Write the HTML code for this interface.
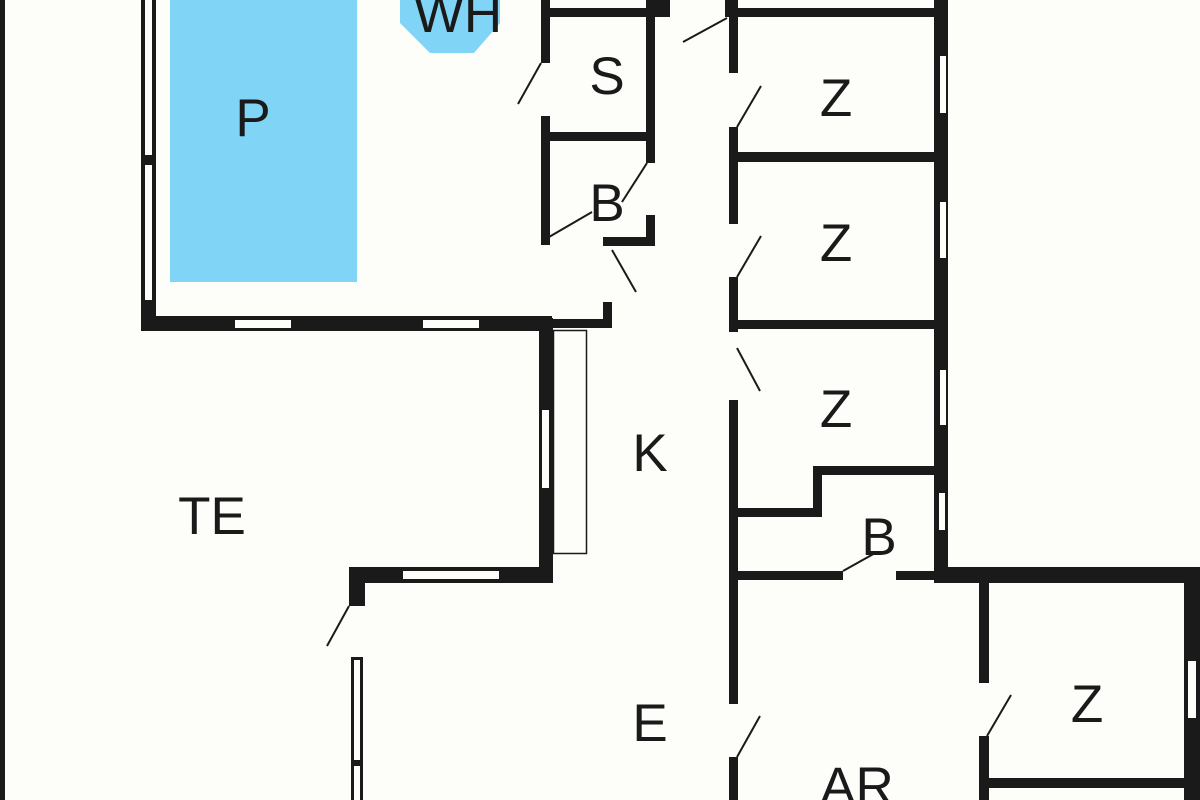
<!DOCTYPE html>
<html><head><meta charset="utf-8"><style>
html,body{margin:0;padding:0;background:#fdfdf9;}
svg{display:block}
text{font-family:"Liberation Sans",sans-serif;font-size:53px;fill:#1a1a1a;text-anchor:middle}
</style></head><body>
<svg width="1200" height="800" viewBox="0 0 1200 800" xmlns="http://www.w3.org/2000/svg">
<rect width="1200" height="800" fill="#fdfdf9"/>
<g fill="#1a1a1a">
<!-- far left line -->
<rect x="0" y="0" width="5" height="800"/>
<!-- pool room left wall -->
<rect x="141" y="0" width="15" height="331"/>
<!-- pool room bottom wall -->
<rect x="141" y="316" width="411" height="15"/>
<rect x="549" y="319" width="62" height="9"/>
<rect x="603" y="302" width="9" height="26"/>
<rect x="603" y="237" width="51" height="9"/>
<!-- S/B column -->
<rect x="541" y="0" width="9" height="63"/>
<rect x="541" y="116" width="9" height="129"/>
<rect x="646" y="0" width="9" height="163"/>
<rect x="646" y="215" width="9" height="31"/>
<rect x="541" y="8" width="129" height="9"/>
<rect x="646" y="0" width="24" height="17"/>
<rect x="541" y="132" width="114" height="9"/>
<!-- corridor right wall -->
<rect x="725" y="0" width="13" height="17"/>
<rect x="729" y="0" width="9" height="73"/>
<rect x="729" y="127" width="9" height="97"/>
<rect x="729" y="277" width="9" height="55"/>
<rect x="729" y="400" width="9" height="304"/>
<rect x="729" y="757" width="9" height="43"/>
<rect x="729" y="8" width="219" height="9"/>
<rect x="729" y="152" width="215" height="10"/>
<rect x="729" y="320" width="215" height="9"/>
<!-- Z right wall -->
<rect x="934" y="0" width="14" height="583"/>
<!-- step walls -->
<rect x="813" y="466" width="125" height="9"/>
<rect x="813" y="466" width="9" height="50"/>
<rect x="729" y="508" width="93" height="9"/>
<!-- B bottom -->
<rect x="729" y="571" width="114" height="9"/>
<rect x="896" y="571" width="42" height="9"/>
<rect x="934" y="567" width="266" height="16"/>
<!-- lower right Z -->
<rect x="979" y="567" width="10" height="116"/>
<rect x="979" y="736" width="10" height="64"/>
<rect x="1184" y="567" width="16" height="233"/>
<rect x="979" y="778" width="221" height="10"/>
<!-- kitchen left wall -->
<rect x="539" y="318" width="14" height="265"/>
<rect x="349" y="567" width="204" height="16"/>
<rect x="349" y="567" width="16" height="39"/>
<rect x="351" y="657" width="12" height="143"/>
</g>
<!-- windows -->
<g fill="#fdfdf9">
<rect x="145" y="0" width="7" height="155"/>
<rect x="145" y="165" width="7" height="135"/>
<rect x="235" y="320" width="56" height="8"/>
<rect x="423" y="320" width="56" height="8"/>
<rect x="940" y="56" width="6" height="57"/>
<rect x="940" y="202" width="6" height="56"/>
<rect x="940" y="370" width="6" height="55"/>
<rect x="939" y="493" width="6" height="37"/>
<rect x="542" y="410" width="7" height="78"/>
<rect x="403" y="571" width="96" height="8"/>
<rect x="1188" y="661" width="8" height="57"/>
<rect x="354" y="660" width="6" height="100"/>
<rect x="354" y="766" width="6" height="34"/>
</g>
<!-- counter -->
<rect x="553.5" y="330.5" width="33" height="223" fill="none" stroke="#1a1a1a" stroke-width="1.5"/>
<!-- pool -->
<rect x="170" y="0" width="187" height="282" fill="#80d4f6"/>
<polygon points="400,0 500,0 500,23 474,53 430,53 400,23" fill="#80d4f6"/>
<!-- door swings -->
<g stroke="#1a1a1a" stroke-width="2" fill="none">
<line x1="541" y1="63" x2="518" y2="104"/>
<line x1="549" y1="237" x2="592" y2="212"/>
<line x1="622" y1="202" x2="647" y2="163"/>
<line x1="612" y1="250" x2="636" y2="292"/>
<line x1="683" y1="42" x2="727" y2="18"/>
<line x1="737" y1="127" x2="761" y2="86"/>
<line x1="737" y1="277" x2="761" y2="236"/>
<line x1="737" y1="348" x2="760" y2="391"/>
<line x1="843" y1="571" x2="877" y2="552"/>
<line x1="987" y1="736" x2="1011" y2="695"/>
<line x1="737" y1="757" x2="760" y2="716"/>
<line x1="349" y1="606" x2="327" y2="646"/>
</g>
<text x="458" y="32">WH</text>
<text x="253" y="136">P</text>
<text x="607" y="94">S</text>
<text x="607" y="221">B</text>
<text x="836" y="116">Z</text>
<text x="836" y="261">Z</text>
<text x="836" y="427">Z</text>
<text x="650" y="471">K</text>
<text x="212" y="534">TE</text>
<text x="879" y="555">B</text>
<text x="650" y="741">E</text>
<text x="857" y="804">AR</text>
<text x="1087" y="722">Z</text>
</svg>
</body></html>
